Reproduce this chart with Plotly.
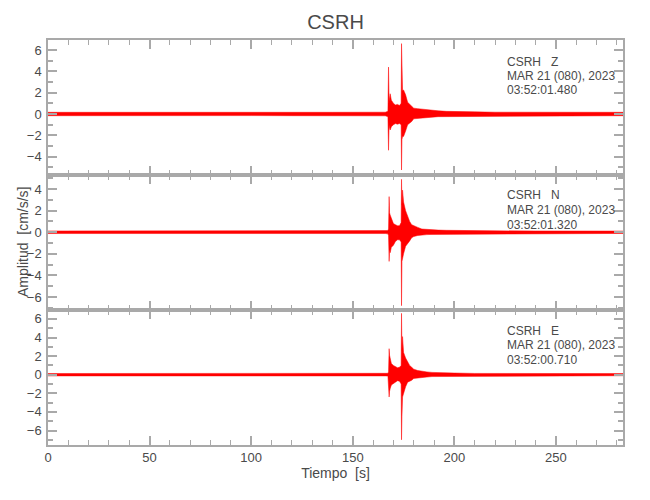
import plotly.graph_objects as go
from plotly.subplots import make_subplots

# Time knots [s] of the envelope
T = [0, 20, 40, 60, 80, 100, 120, 140, 160, 166, 167.3, 167.6, 167.9, 168.1, 168.4,
     169.0, 170.0, 171.0, 172.0, 173.0, 173.8, 174.0, 174.2, 174.5, 175.0, 176.0,
     177.0, 178.0, 179.0, 180.0, 182.0, 184.0, 186.5, 189.0, 192.0, 196.0, 200.0,
     210.0, 220.0, 240.0, 260.0, 283.0]

# Z component: upper / lower envelope [cm/s/s]
z_hi = [0.16, 0.17, 0.16, 0.17, 0.16, 0.15, 0.16, 0.16, 0.17, 0.17, 0.25, 4.4, 1.2, 1.6, 1.9,
        1.3, 1.0, 0.85, 0.9, 0.8, 1.0, 6.6, 2.6, 2.2, 2.25, 1.8,
        1.1, 0.9, 0.8, 0.55, 0.5, 0.45, 0.45, 0.35, 0.3, 0.25, 0.22,
        0.2, 0.17, 0.17, 0.17, 0.16]
z_lo = [-0.16, -0.15, -0.17, -0.16, -0.16, -0.15, -0.16, -0.17, -0.16, -0.17, -0.25, -3.4, -1.0, -1.3, -1.5,
        -1.2, -1.0, -0.9, -0.95, -0.9, -1.0, -5.25, -2.4, -2.1, -2.1, -1.6,
        -1.0, -0.85, -0.7, -0.45, -0.4, -0.35, -0.35, -0.3, -0.25, -0.22, -0.2,
        -0.2, -0.17, -0.16, -0.17, -0.16]

# N component
n_hi = [0.12, 0.12, 0.13, 0.12, 0.12, 0.12, 0.13, 0.12, 0.12, 0.12, 0.15, 0.3, 3.3, 1.8, 1.6,
        1.3, 0.8, 0.7, 0.6, 0.6, 0.9, 4.9, 2.5, 3.9, 2.8, 2.0,
        1.4, 1.0, 0.7, 0.6, 0.45, 0.3, 0.25, 0.22, 0.2, 0.18, 0.16,
        0.14, 0.13, 0.12, 0.12, 0.11]
n_lo = [-0.12, -0.12, -0.12, -0.13, -0.12, -0.12, -0.12, -0.13, -0.12, -0.12, -0.15, -0.3, -2.7, -1.6, -1.9,
        -1.4, -1.2, -0.85, -0.7, -0.7, -0.9, -6.8, -2.7, -2.4, -2.0, -1.3,
        -1.0, -0.8, -0.5, -0.4, -0.3, -0.25, -0.22, -0.2, -0.18, -0.16, -0.15,
        -0.13, -0.12, -0.12, -0.12, -0.11]

# E component
e_hi = [0.13, 0.13, 0.13, 0.14, 0.13, 0.13, 0.13, 0.13, 0.13, 0.13, 0.15, 0.3, 2.8, 2.1, 1.8,
        1.2, 1.0, 0.85, 0.75, 0.8, 1.0, 6.6, 2.6, 4.1, 2.4, 1.8,
        1.4, 1.0, 0.8, 0.6, 0.45, 0.35, 0.3, 0.25, 0.22, 0.2, 0.18,
        0.14, 0.13, 0.13, 0.12, 0.12]
e_lo = [-0.13, -0.13, -0.13, -0.13, -0.14, -0.13, -0.13, -0.13, -0.13, -0.13, -0.15, -0.3, -2.4, -1.8, -1.5,
        -1.1, -0.9, -0.8, -0.65, -0.7, -1.0, -7.0, -4.5, -2.4, -2.0, -1.3,
        -0.8, -0.7, -0.6, -0.4, -0.35, -0.3, -0.25, -0.2, -0.18, -0.16, -0.15,
        -0.13, -0.13, -0.12, -0.12, -0.11]

components = ["Z", "N", "E"]
start_times = ["03:52:01.480", "03:52:01.320", "03:52:00.710"]
station = "CSRH"
date_label = "MAR 21 (080), 2023"
y_ranges = [[-5.72, 6.94], [-7.2, 5.3], [-7.56, 6.96]]
y_ticks = [[-4, -2, 0, 2, 4, 6], [-6, -4, -2, 0, 2, 4], [-6, -4, -2, 0, 2, 4, 6]]
x_ticks = [0, 50, 100, 150, 200, 250]

FONT = "Liberation Sans, Arial, sans-serif"
AX = "#a9a9a9"
TXT = "#4a4a4a"

fig = make_subplots(rows=3, cols=1, shared_xaxes=True, vertical_spacing=0)

for i, (hi, lo) in enumerate([(z_hi, z_lo), (n_hi, n_lo), (e_hi, e_lo)]):
    fig.add_trace(go.Scatter(
        x=T + T[::-1], y=hi + lo[::-1], mode="lines", fill="toself",
        fillcolor="#ff0000", line=dict(color="#ff0000", width=0.5),
        hoverinfo="skip", showlegend=False), row=i + 1, col=1)

for i in range(3):
    r = i + 1
    fig.update_yaxes(range=y_ranges[i], tickvals=y_ticks[i], ticks="inside", ticklen=9,
                     tickwidth=2, tickcolor=AX, showline=True, linecolor=AX, linewidth=1.5,
                     mirror="ticks", showgrid=False, zeroline=False, ticklabelstandoff=2,
                     minor=dict(dtick=1, ticks="inside", ticklen=5, tickcolor=AX, tickwidth=1.5, showgrid=False),
                     tickfont=dict(family=FONT, size=13, color=TXT), row=r, col=1)
    fig.update_xaxes(range=[0, 283], tickvals=x_ticks, ticks="inside", ticklen=9,
                     tickwidth=1.5, tickcolor=AX, showline=True, linecolor=AX, linewidth=1.5,
                     mirror="ticks", showgrid=False, zeroline=False,
                     minor=dict(dtick=10, ticks="inside", ticklen=5, tickcolor=AX, tickwidth=1, showgrid=False),
                     tickfont=dict(family=FONT, size=13, color=TXT),
                     showticklabels=(r == 3), row=r, col=1)

fig.update_xaxes(title=dict(text="Tiempo  [s]", font=dict(family=FONT, size=14, color=TXT), standoff=4), row=3, col=1)

# screen-pixel helpers (plot area spans x 48..623, y 40..445 on the page)
H = 405.0
def py(p):
    return 1 - (p - 40) / H

line_y = [[62, 76, 90], [195, 210, 225], [331, 345, 360]]
for i in range(3):
    texts = [f"{station}   {components[i]}", date_label, start_times[i]]
    for t, yy in zip(texts, line_y[i]):
        fig.add_annotation(text=t, xref="paper", yref="paper", x=(505 - 48) / 575.0, y=py(yy),
                           xanchor="left", yanchor="middle", showarrow=False,
                           font=dict(family=FONT, size=12, color=TXT))

fig.add_annotation(text="Amplitud  [cm/s/s]", textangle=-90, xref="paper", yref="paper",
                   x=(23 - 48) / 575.0, y=py(242), xanchor="center", yanchor="middle",
                   showarrow=False, font=dict(family=FONT, size=14, color=TXT))

fig.update_layout(
    width=650, height=500,
    margin=dict(l=40, r=35, t=32, b=63),
    paper_bgcolor="white", plot_bgcolor="white",
    title=dict(text=station, x=0.5, xref="paper", xanchor="center", y=1 - 14 / 500.0, yanchor="middle",
               font=dict(family=FONT, size=20, color=TXT)),
    showlegend=False,
)

fig.write_html("out.html")
